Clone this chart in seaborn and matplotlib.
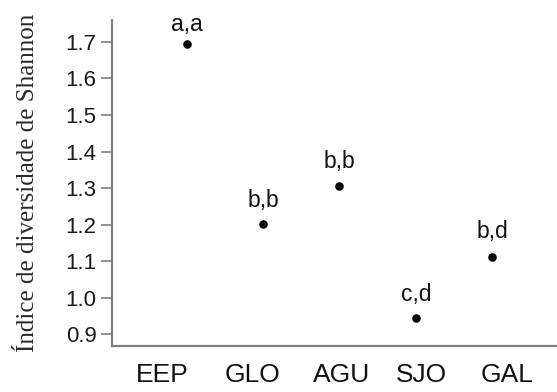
import matplotlib
matplotlib.use("Agg")
import matplotlib.pyplot as plt
import seaborn as sns
import pandas as pd
import numpy as np

sites = ["EEP", "GLO", "AGU", "SJO", "GAL"]
shannon = [1.694, 1.202, 1.307, 0.944, 1.112]
letters = ["a,a", "b,b", "b,b", "c,d", "b,d"]
yticks = [0.9, 1.0, 1.1, 1.2, 1.3, 1.4, 1.5, 1.6, 1.7]

sns.set_theme(style="white")
plt.rcParams['font.family'] = ['Liberation Sans', 'DejaVu Sans']

df = pd.DataFrame({"site": sites, "H": shannon})

fig = plt.figure(figsize=(5.57, 3.92), dpi=100)
ax = fig.add_axes([0.2011, 0.118, 0.7989, 0.831])
sns.scatterplot(data=df, x="site", y="H", color="black", s=38, edgecolor="black",
                linewidth=0, ax=ax, zorder=3)

label_offsets = [9.5, 12.5, 12.5, 12.5, 13.5]
for i, (v, t) in enumerate(zip(shannon, letters)):
    ax.annotate(t, (i, v), xytext=(0, label_offsets[i]), textcoords="offset points",
                ha="center", va="baseline", fontsize=16.5, color="#111111")

ax.set_xlim(-0.98, 4.85)
ax.set_ylim(0.869, 1.760)
ax.set_yticks(yticks)
ax.set_yticklabels([f"{v:.1f}" for v in yticks], fontsize=16, color="#1a1a1a")

# category labels (no tick marks), spaced slightly wider than the points
label_pos = np.arange(len(sites)) + np.array([-0.32, -0.14, 0.03, 0.08, 0.2])
ax.set_xticks(label_pos)
ax.set_xticklabels(sites, fontsize=19, color="#111111")
ax.tick_params(axis="x", length=0, pad=12.5)
ax.tick_params(axis="y", length=8, width=1.2, color="#808080", pad=3, left=True)

ax.set_xlabel("")
ax.set_ylabel("Índice de diversidade de Shannon", family=["Liberation Serif", "DejaVu Serif"],
              fontsize=18, color="#2a2a2a", labelpad=19)

for s in ["top", "right"]:
    ax.spines[s].set_visible(False)
for s in ["left", "bottom"]:
    ax.spines[s].set_color("#808080")
    ax.spines[s].set_linewidth(1.6)

fig.savefig("out.png", dpi=100)
